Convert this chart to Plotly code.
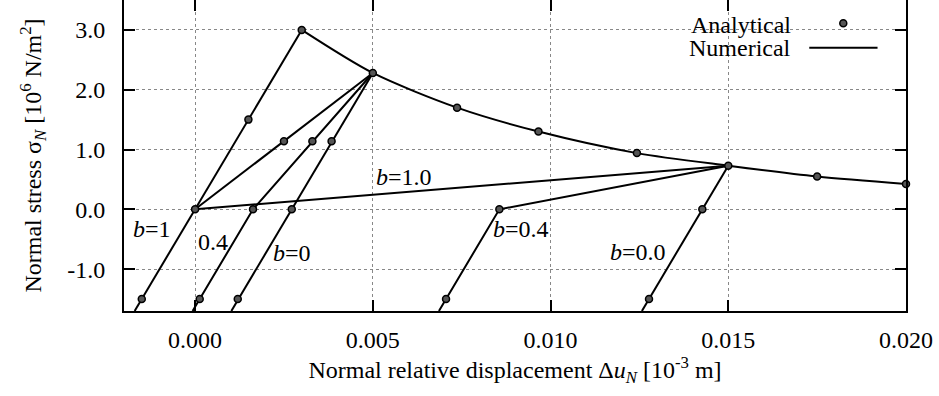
import plotly.graph_objects as go

# ---------------- data ----------------
# loading branch (elastic)
load_u = [-0.0017, 0.003]
load_s = [-1.7, 3.0]

# softening envelope (numerical)
soft_u = [0.003, 0.005, 0.00737, 0.00966, 0.01243, 0.015, 0.0175, 0.020]
soft_s = [3.0, 2.28, 1.70, 1.30, 0.94, 0.73, 0.55, 0.425]

# unloading / reloading paths from point at 0.005
ua_b1_u = [0.005, 0.0]
ua_b1_s = [2.28, 0.0]
ua_b04_u = [0.005, 0.00163, -0.00007]
ua_b04_s = [2.28, 0.0, -1.7]
ua_b0_u = [0.005, 0.00272, 0.00102]
ua_b0_s = [2.28, 0.0, -1.7]

# unloading / reloading paths from point at 0.015
ub_b1_u = [0.015, 0.0]
ub_b1_s = [0.73, 0.0]
ub_b04_u = [0.015, 0.00856, 0.00686]
ub_b04_s = [0.73, 0.0, -1.7]
ub_b0_u = [0.015, 0.01427, 0.01257]
ub_b0_s = [0.73, 0.0, -1.7]

# analytical points
ana_u = [-0.0015, 0.0, 0.0015, 0.003,
         0.005, 0.00737, 0.00966, 0.01243, 0.015, 0.0175, 0.020,
         0.0025, 0.0033, 0.00384, 0.00163, 0.00272, 0.00013, 0.0012,
         0.00856, 0.01427, 0.00706, 0.01277]
ana_s = [-1.5, 0.0, 1.5, 3.0,
         2.28, 1.70, 1.30, 0.94, 0.73, 0.55, 0.425,
         1.14, 1.14, 1.14, 0.0, 0.0, -1.5, -1.5,
         0.0, 0.0, -1.5, -1.5]

x_tickvals = [0.000, 0.005, 0.010, 0.015, 0.020]
x_ticktext = ["0.000", "0.005", "0.010", "0.015", "0.020"]
y_tickvals = [-1.0, 0.0, 1.0, 2.0, 3.0]
y_ticktext = ["-1.0", "0.0", "1.0", "2.0", "3.0"]

# path labels: text, x, y
label_text = ["<i>b</i>=1", "0.4", "<i>b</i>=0", "<i>b</i>=1.0", "<i>b</i>=0.4", "<i>b</i>=0.0"]
label_x = [-0.00122, 0.00051, 0.00273, 0.00588, 0.00918, 0.01247]
label_y = [-0.33, -0.54, -0.726, 0.545, -0.33, -0.72]

FONT = "Liberation Serif"
FS = 24

fig = go.Figure()

line_style = dict(color="black", width=2)
for u, s in [(load_u, load_s), (ua_b1_u, ua_b1_s), (ua_b04_u, ua_b04_s), (ua_b0_u, ua_b0_s),
             (ub_b1_u, ub_b1_s), (ub_b04_u, ub_b04_s), (ub_b0_u, ub_b0_s)]:
    fig.add_trace(go.Scatter(x=u, y=s, mode="lines", line=line_style,
                             showlegend=False, hoverinfo="skip"))

fig.add_trace(go.Scatter(x=soft_u, y=soft_s, mode="lines",
                         line=dict(color="black", width=2, shape="spline", smoothing=0.8),
                         showlegend=False, hoverinfo="skip"))

fig.add_trace(go.Scatter(x=ana_u, y=ana_s, mode="markers",
                         marker=dict(symbol="circle", size=7, color="#555555",
                                     line=dict(color="black", width=1.5)),
                         cliponaxis=False, showlegend=False))

for t, x, y in zip(label_text, label_x, label_y):
    fig.add_annotation(x=x, y=y, text=t, showarrow=False,
                       font=dict(family=FONT, size=FS, color="black"),
                       xanchor="center", yanchor="middle")

# legend (gnuplot style: text then sample on the right)
fig.add_shape(type="rect", xref="paper", yref="paper", x0=0.665, x1=0.98, y0=0.80, y1=1.0,
              fillcolor="white", line=dict(width=0), layer="between")
fig.add_annotation(xref="paper", yref="paper", x=0.8555, y=0.92, text="Analytical",
                   showarrow=False, xanchor="right", yanchor="middle",
                   font=dict(family=FONT, size=FS, color="black"))
fig.add_annotation(xref="paper", yref="paper", x=0.8555, y=0.846, text="Numerical",
                   showarrow=False, xanchor="right", yanchor="middle",
                   font=dict(family=FONT, size=FS, color="black"))
fig.add_shape(type="circle", xref="paper", yref="paper", xsizemode="pixel", ysizemode="pixel",
              xanchor=0.9198, yanchor=0.925, x0=-3.5, x1=3.5, y0=-3.5, y1=3.5,
              fillcolor="#555555", line=dict(color="black", width=1.5), layer="above")
fig.add_shape(type="line", xref="paper", yref="paper", x0=0.8763, x1=0.9636, y0=0.8466, y1=0.8466,
              line=dict(color="black", width=2), layer="above")

axis_common = dict(
    showline=True, linecolor="black", linewidth=2, mirror="ticks",
    ticks="inside", ticklen=11, tickwidth=1.5, tickcolor="black",
    showgrid=True, gridcolor="#888888", gridwidth=1, griddash="dot",
    zeroline=False,
    tickfont=dict(family=FONT, size=FS, color="black"),
)

fig.update_xaxes(range=[-0.002, 0.020], tickvals=x_tickvals, ticktext=x_ticktext,
                 ticklabelstandoff=6,
                 title=dict(text="Normal relative displacement Δ<i>u</i><sub><i>N</i></sub> [10<sup>-3</sup> m]",
                            font=dict(family=FONT, size=FS, color="black"), standoff=9),
                 **axis_common)
fig.update_yaxes(range=[-1.7, 3.5], tickvals=y_tickvals, ticktext=y_ticktext,
                 ticklabelstandoff=12,
                 title=dict(text="Normal stress σ<sub><i>N</i></sub> [10<sup>6</sup> N/m<sup>2</sup>]",
                            font=dict(family=FONT, size=FS, color="black"), standoff=19),
                 **axis_common)

fig.update_layout(
    width=939, height=396,
    margin=dict(l=124, r=33, t=0, b=85, autoexpand=False),
    paper_bgcolor="white", plot_bgcolor="white",
    font=dict(family=FONT, size=FS, color="black"),
    showlegend=False,
)

fig.write_html("out.html", config={"displayModeBar": False},
               post_script="document.body.style.margin='0';")
